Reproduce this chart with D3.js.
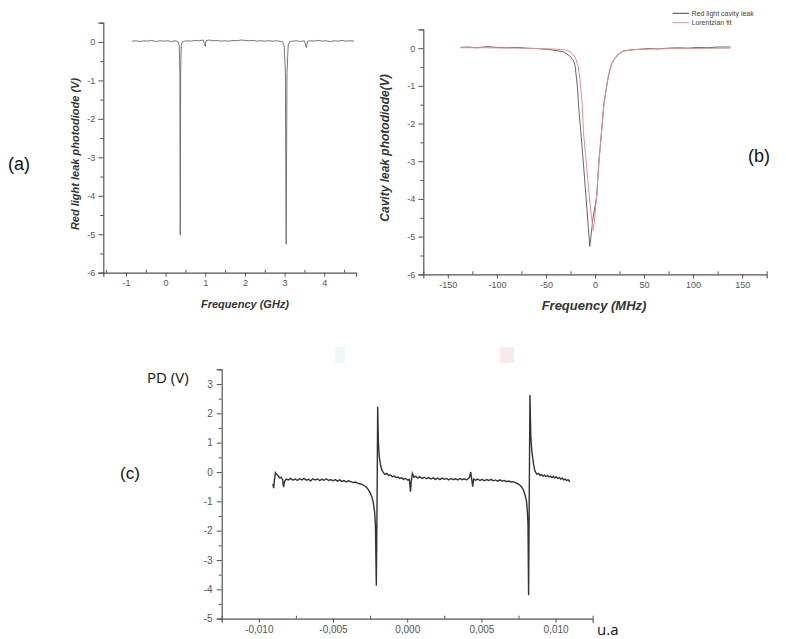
<!DOCTYPE html>
<html><head><meta charset="utf-8">
<script src="https://cdn.jsdelivr.net/npm/d3@7"></script>
<style>
html,body{margin:0;padding:0;background:#fff;}
svg{display:block;font-family:"Liberation Sans",Arial,sans-serif;}
</style></head>
<body><svg id="c" width="786" height="639"></svg>
<script>
// ---------- DATA ----------
// Panel (a): red light leak photodiode vs frequency (GHz)
const spectrumA = [[-0.85,0.02],[-0.75,0.03],[-0.65,0.01],[-0.55,0.03],[-0.45,0.02],[-0.35,0.04],[-0.25,0.01],[-0.15,0.03],[-0.05,0.02],[0.05,0.03],[0.15,0.01],[0.22,0.03],[0.28,0.02],[0.32,0.0],[0.345,-0.1],[0.36,-0.8],[0.37,-5.02],[0.38,-0.8],[0.395,-0.1],[0.42,0.0],[0.47,0.02],[0.55,0.03],[0.65,0.02],[0.75,0.04],[0.85,0.03],[0.95,0.05],[1.0,-0.12],[1.02,0.03],[1.1,0.05],[1.2,0.03],[1.3,0.04],[1.4,0.02],[1.5,0.03],[1.6,0.02],[1.7,0.04],[1.8,0.03],[1.9,0.05],[2.0,0.04],[2.1,0.03],[2.2,0.04],[2.3,0.02],[2.4,0.03],[2.5,0.02],[2.6,0.03],[2.7,0.02],[2.8,0.03],[2.9,0.01],[2.95,0.0],[2.99,-0.1],[3.02,-0.8],[3.04,-5.26],[3.06,-0.8],[3.09,-0.1],[3.13,0.01],[3.2,0.02],[3.3,0.03],[3.4,0.01],[3.5,0.03],[3.55,-0.15],[3.58,0.02],[3.65,0.03],[3.75,0.02],[3.85,0.04],[3.95,0.02],[4.05,0.03],[4.15,0.01],[4.25,0.03],[4.35,0.02],[4.45,0.04],[4.55,0.02],[4.65,0.03],[4.75,0.02]];
const ticksAx = [-1,0,1,2,3,4];
const minorAx = [-1.5,-0.5,0.5,1.5,2.5,3.5,4.5];
const ticksAy = [-6,-5,-4,-3,-2,-1,0];
const minorAy = [-5.5,-4.5,-3.5,-2.5,-1.5,-0.5,0.5];

// Panel (b): cavity leak (measured) and Lorentzian fit vs frequency (MHz)
const cavityLeakB = [[-137,0.02],[-130,0.03],[-120,0.01],[-110,0.04],[-100,0.02],[-90,0.01],[-80,0.02],[-70,0.0],[-60,-0.01],[-50,-0.03],[-40,-0.06],[-32,-0.1],[-26,-0.2],[-22,-0.33],[-20.4,-0.45],[-18,-1.0],[-16.5,-1.6],[-14.6,-2.18],[-12,-3.0],[-9.2,-3.94],[-7,-4.7],[-5.3,-5.26],[-2,-4.5],[1.7,-3.94],[4,-3.0],[6.8,-2.18],[9,-1.5],[11.9,-1.0],[14,-0.7],[17,-0.41],[20,-0.28],[24,-0.16],[28.5,-0.08],[35,-0.05],[45,-0.03],[55,-0.01],[65,-0.02],[75,0.0],[85,0.01],[95,0.0],[105,0.02],[115,0.01],[125,0.03],[138,0.03]];
const lorentzFitB = [[-137,0.01],[-110,0.01],[-80,0.0],[-60,-0.01],[-45,-0.02],[-35,-0.04],[-30,-0.05],[-25,-0.1],[-20,-0.25],[-17,-0.5],[-15,-0.9],[-13,-1.5],[-11.9,-2.18],[-9,-3.0],[-5.8,-3.94],[-3.5,-4.5],[-1.7,-4.84],[0,-4.4],[1.7,-3.94],[4,-3.0],[6.8,-2.18],[9,-1.5],[11.9,-1.0],[14,-0.7],[17,-0.41],[20,-0.27],[24,-0.15],[28.5,-0.08],[40,-0.04],[60,-0.02],[90,-0.01],[138,0.0]];
const ticksBx = [-150,-100,-50,0,50,100,150];
const minorBx = [-175,-125,-75,-25,25,75,125,175];
const ticksBy = [-6,-5,-4,-3,-2,-1,0];
const minorBy = [-5.5,-4.5,-3.5,-2.5,-1.5,-0.5,0.5];
const legendB = ["Red light cavity leak","Lorentzian fit"];

// Panel (c): PD (V) vs u.a
const signalC = [[-0.00905,-0.40],[-0.00900,-0.55],[-0.00895,-0.30],[-0.00888,-0.02],[-0.00880,-0.08],[-0.00870,-0.12],[-0.00860,-0.20],[-0.00850,-0.18],[-0.00840,-0.25],[-0.00833,-0.52],[-0.00826,-0.32],[-0.00815,-0.24],[-0.00800,-0.27],[-0.00785,-0.22],[-0.00770,-0.28],[-0.00755,-0.24],[-0.00740,-0.29],[-0.00725,-0.23],[-0.00710,-0.27],[-0.00695,-0.22],[-0.00680,-0.28],[-0.00665,-0.25],[-0.00650,-0.30],[-0.00635,-0.23],[-0.00620,-0.27],[-0.00605,-0.24],[-0.00590,-0.29],[-0.00575,-0.25],[-0.00560,-0.28],[-0.00545,-0.23],[-0.00530,-0.29],[-0.00515,-0.26],[-0.00500,-0.30],[-0.00485,-0.26],[-0.00470,-0.31],[-0.00455,-0.27],[-0.00440,-0.32],[-0.00425,-0.29],[-0.00410,-0.34],[-0.00395,-0.30],[-0.00380,-0.33],[-0.00365,-0.36],[-0.00350,-0.34],[-0.00335,-0.38],[-0.00320,-0.40],[-0.00305,-0.42],[-0.00290,-0.46],[-0.00275,-0.52],[-0.00262,-0.60],[-0.00250,-0.70],[-0.00238,-0.85],[-0.00228,-1.05],[-0.00220,-1.35],[-0.00214,-1.8],[-0.00208,-3.88],[-0.00203,-1.0],[-0.00199,2.22],[-0.00194,1.0],[-0.00188,0.52],[-0.00180,0.25],[-0.00170,0.05],[-0.00160,-0.02],[-0.00150,-0.08],[-0.00138,-0.05],[-0.00125,-0.12],[-0.00112,-0.10],[-0.00100,-0.16],[-0.00088,-0.14],[-0.00075,-0.19],[-0.00062,-0.17],[-0.00050,-0.22],[-0.00038,-0.20],[-0.00025,-0.25],[-0.00012,-0.22],[0.00005,-0.28],[0.00015,-0.25],[0.00022,-0.67],[0.00028,-0.30],[0.00035,-0.05],[0.00045,-0.18],[0.00058,-0.14],[0.00070,-0.21],[0.00085,-0.16],[0.00100,-0.22],[0.00115,-0.18],[0.00130,-0.23],[0.00145,-0.19],[0.00160,-0.24],[0.00175,-0.20],[0.00190,-0.25],[0.00205,-0.21],[0.00220,-0.26],[0.00235,-0.21],[0.00250,-0.25],[0.00265,-0.22],[0.00280,-0.27],[0.00295,-0.22],[0.00310,-0.26],[0.00325,-0.23],[0.00340,-0.27],[0.00355,-0.22],[0.00370,-0.26],[0.00385,-0.23],[0.00400,-0.27],[0.00412,-0.22],[0.00420,-0.18],[0.00428,0.0],[0.00435,-0.25],[0.00441,-0.50],[0.00448,-0.24],[0.00460,-0.28],[0.00475,-0.24],[0.00490,-0.29],[0.00505,-0.25],[0.00520,-0.30],[0.00535,-0.26],[0.00550,-0.29],[0.00565,-0.25],[0.00580,-0.30],[0.00595,-0.27],[0.00610,-0.31],[0.00625,-0.27],[0.00640,-0.31],[0.00655,-0.29],[0.00670,-0.33],[0.00685,-0.31],[0.00700,-0.34],[0.00715,-0.33],[0.00730,-0.37],[0.00745,-0.40],[0.00760,-0.45],[0.00772,-0.52],[0.00784,-0.62],[0.00795,-0.80],[0.00804,-1.0],[0.00810,-1.35],[0.00814,-1.8],[0.00818,-4.2],[0.00822,-1.2],[0.00827,2.62],[0.00833,1.2],[0.00840,0.7],[0.00845,0.52],[0.00852,0.25],[0.00860,0.05],[0.00867,-0.02],[0.00875,-0.08],[0.00885,-0.05],[0.00895,-0.12],[0.00905,-0.09],[0.00915,-0.14],[0.00925,-0.11],[0.00935,-0.16],[0.00945,-0.12],[0.00955,-0.17],[0.00965,-0.14],[0.00975,-0.19],[0.00985,-0.15],[0.00995,-0.20],[0.01005,-0.17],[0.01015,-0.22],[0.01025,-0.19],[0.01035,-0.24],[0.01045,-0.21],[0.01055,-0.27],[0.01065,-0.24],[0.01075,-0.29],[0.01085,-0.27],[0.01097,-0.33]];
const ticksCx = [-0.010,-0.005,0,0.005,0.010];
const minorCx = [-0.0125,-0.0075,-0.0025,0.0025,0.0075,0.0125];
const ticksCy = [-5,-4,-3,-2,-1,0,1,2,3];
const minorCy = [-4.5,-3.5,-2.5,-1.5,-0.5,0.5,1.5,2.5,3.5];

// ---------- DRAWING ----------
const svg = d3.select("#c");
const axisColor = "#555";

function panel(o){
  const x = d3.scaleLinear().domain(o.xd).range(o.xr);
  const y = d3.scaleLinear().domain(o.yd).range(o.yr);
  const g = svg.append("g");
  const yb = o.yr[0];
  g.append("g").attr("transform",`translate(${o.xr[0]},0)`)
    .call(d3.axisLeft(y).tickValues(o.ty).tickSize(5).tickPadding(o.yPad||3).tickFormat(o.fy||(d=>String(d))));
  const ym = g.append("g").attr("transform",`translate(${o.xr[0]},0)`)
    .call(d3.axisLeft(y).tickValues(o.my).tickSize(3).tickFormat(""));
  ym.select(".domain").remove();
  g.append("g").attr("transform",`translate(0,${yb})`)
    .call(d3.axisBottom(x).tickValues(o.tx).tickSize(4).tickPadding(3).tickFormat(o.fx||(d=>String(d))));
  const xm = g.append("g").attr("transform",`translate(0,${yb})`)
    .call(d3.axisTop(x).tickValues(o.mx).tickSize(3).tickFormat(""));
  xm.select(".domain").remove();
  g.selectAll(".domain").attr("stroke",axisColor).attr("stroke-width",1.2);
  g.selectAll(".tick line").attr("stroke",axisColor);
  g.selectAll(".tick text").attr("fill","#555").style("font-size",o.tickFont+"px")
    .style("font-family","'Liberation Sans',Arial,sans-serif");
  return {x,y,g};
}

// Panel (a)
const A = panel({xd:[-1.57,4.8], xr:[103.3,356], yd:[-6,0.5], yr:[272.7,22.7],
  tx:ticksAx, mx:minorAx, ty:ticksAy, my:minorAy, tickFont:9});
A.g.append("path").datum(spectrumA)
  .attr("d",d3.line().x(d=>A.x(d[0])).y(d=>A.y(d[1])))
  .attr("fill","none").attr("stroke","#666").attr("stroke-width",0.9);
A.g.append("text").attr("x",245).attr("y",308).attr("text-anchor","middle")
  .style("font-size","11px").style("font-weight","bold").style("font-style","italic").attr("fill","#333")
  .text("Frequency (GHz)");
A.g.append("text").attr("transform","translate(79,154) rotate(-90)").attr("text-anchor","middle")
  .style("font-size","11px").style("font-weight","bold").style("font-style","italic").attr("fill","#333")
  .text("Red light leak photodiode (V)");

// Panel (b)
const B = panel({xd:[-175,175], xr:[423.3,766.7], yd:[-6,0.5], yr:[274.3,29.3],
  tx:ticksBx, mx:minorBx, ty:ticksBy, my:minorBy, tickFont:9});
const lineB = d3.line().x(d=>B.x(d[0])).y(d=>B.y(d[1]));
B.g.append("path").datum(cavityLeakB).attr("d",lineB)
  .attr("fill","none").attr("stroke","#666").attr("stroke-width",1);
B.g.append("path").datum(lorentzFitB).attr("d",lineB)
  .attr("fill","none").attr("stroke","#e39090").attr("stroke-width",1);
const legColors = ["#444","#e39090"];
legendB.forEach((t,i)=>{
  const ly = 13.3 + i*9.4;
  B.g.append("line").attr("x1",672.7).attr("x2",689).attr("y1",ly).attr("y2",ly)
    .attr("stroke",legColors[i]).attr("stroke-width",1);
  B.g.append("text").attr("x",691.5).attr("y",ly+2.5).style("font-size","7px").attr("fill","#444").text(t);
});
B.g.append("text").attr("x",594).attr("y",310).attr("text-anchor","middle")
  .style("font-size","13px").style("font-weight","bold").style("font-style","italic").attr("fill","#333")
  .text("Frequency (MHz)");
B.g.append("text").attr("transform","translate(389,148) rotate(-90)").attr("text-anchor","middle")
  .style("font-size","12px").style("font-weight","bold").style("font-style","italic").attr("fill","#333")
  .text("Cavity leak photodiode(V)");

// Panel (c)
const C = panel({xd:[-0.0125,0.0125], xr:[221.7,592.7], yd:[-5,3.5], yr:[618.7,369.3],
  tx:ticksCx, mx:minorCx, ty:ticksCy, my:minorCy, tickFont:10, yPad:4,
  fx:d=>d.toFixed(3).replace(".",",")});
svg.append("rect").attr("x",335).attr("y",347).attr("width",10).attr("height",16).attr("fill","#eef7fa");
svg.append("rect").attr("x",500).attr("y",347).attr("width",14).attr("height",16).attr("fill","#fbe9e9");
C.g.append("path").datum(signalC)
  .attr("d",d3.line().x(d=>C.x(d[0])).y(d=>C.y(d[1])))
  .attr("fill","none").attr("stroke","#333").attr("stroke-width",1.4);

// Panel letters and extra labels
const lab = (x,y,t,s,anchor,fam)=>svg.append("text").attr("x",x).attr("y",y).attr("text-anchor",anchor||"start")
  .style("font-size",s+"px").style("font-family",fam||"'Liberation Sans',Arial,sans-serif").attr("fill","#111").text(t);
lab(8,170,"(a)",18);
lab(748,162,"(b)",18);
lab(120,479,"(c)",17);
lab(147,383,"PD (V)",15,"start","'Open Sans',sans-serif");
lab(597,635,"u.a",15,"start","'Open Sans',sans-serif");
</script></body></html>
